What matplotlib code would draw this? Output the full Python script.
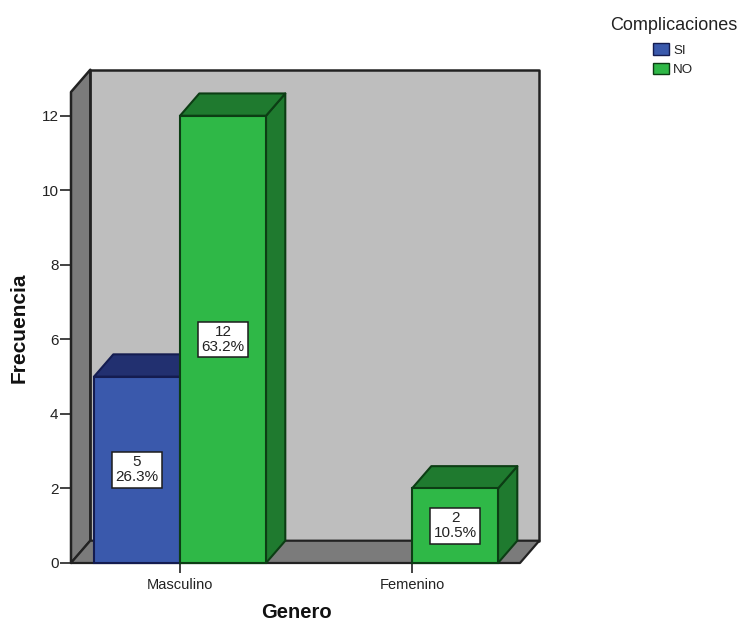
import matplotlib
matplotlib.use("Agg")
import matplotlib.pyplot as plt
from matplotlib.patches import Polygon, Patch

categories = ["Masculino", "Femenino"]
series_names = ["SI", "NO"]
si_counts = [5, 0]
no_counts = [12, 2]
si_pct = ["26.3%", ""]
no_pct = ["63.2%", "10.5%"]
y_ticks = [0, 2, 4, 6, 8, 10, 12]

W, H = 740, 622
plt.rcParams["font.family"] = ["Liberation Sans", "DejaVu Sans"]

fig = plt.figure(figsize=(W / 100, H / 100), dpi=100, facecolor="white")
# Front plane of the 3D box, in pixels
L, R, B, T = 71, 520, 563, 92
ax = fig.add_axes([L / W, 1 - B / H, (R - L) / W, (B - T) / H])
px_per_cat = 232.0
px_per_val = 37.27
ax.set_xlim((L - 180) / px_per_cat, (R - 180) / px_per_cat)
ax.set_ylim(0, (B - T) / px_per_val)
for s in ax.spines.values():
    s.set_visible(False)
ax.patch.set_visible(False)

# Depth of the box and of the bars, in data units
dx = 19.3 / px_per_cat
dy = 22.3 / px_per_val
x0, x1 = ax.get_xlim()
y1 = ax.get_ylim()[1]
edge = "#222222"


def poly(pts, face, ec=edge, lw=1.5, z=1):
    ax.add_patch(Polygon(pts, closed=True, facecolor=face, edgecolor=ec,
                         linewidth=lw, zorder=z, clip_on=False, joinstyle="round"))


# Back wall, side wall and floor
poly([(x0 + dx, dy), (x1 + dx, dy), (x1 + dx, y1 + dy), (x0 + dx, y1 + dy)], "#bebebe", lw=1.8)
poly([(x0, 0), (x0 + dx, dy), (x0 + dx, y1 + dy), (x0, y1)], "#7b7b7b", lw=1.8)
poly([(x0, 0), (x1, 0), (x1 + dx, dy), (x0 + dx, dy)], "#7b7b7b", lw=1.6)

bar_w = 86.0 / px_per_cat


def bar3d(xl, h, front, top, side, ec, z):
    xr = xl + bar_w
    poly([(xr, 0), (xr + dx, dy), (xr + dx, h + dy), (xr, h)], side, ec, z=z)
    poly([(xl, h), (xr, h), (xr + dx, h + dy), (xl + dx, h + dy)], top, ec, z=z)
    ax.bar(xl, h, width=bar_w, align="edge", facecolor=front, edgecolor=ec,
           linewidth=1.5, zorder=z + 0.1, clip_on=False)


def value_label(x, h, count, pct):
    ax.text(x, h / 2, f"{count}\n{pct}", ha="center", va="center", fontsize=11,
            color="#222222", linespacing=1.08, zorder=10,
            bbox=dict(boxstyle="square,pad=0.22", facecolor="white",
                      edgecolor="#1c1c1c", linewidth=1.1))


blue = ("#3a59ac", "#223070", "#223070", "#141c50")
green = ("#2fb847", "#1f7a2f", "#1f7a2f", "#0c3d14")

for i in range(len(categories)):
    if si_counts[i]:
        bar3d(i - bar_w, si_counts[i], *blue, z=3)
    if no_counts[i]:
        bar3d(i, no_counts[i], *green, z=4)

for i in range(len(categories)):
    if si_counts[i]:
        value_label(i - bar_w / 2, si_counts[i], si_counts[i], si_pct[i])
    if no_counts[i]:
        value_label(i + bar_w / 2, no_counts[i], no_counts[i], no_pct[i])

ax.set_xticks(range(len(categories)), categories)
ax.set_yticks(y_ticks)
ax.tick_params(axis="x", length=7, width=1.2, color="#222222", labelsize=10.5,
               labelcolor="#222222", pad=3.5)
ax.tick_params(axis="y", length=8, width=1.2, color="#222222", labelsize=11,
               labelcolor="#222222", pad=1)
ax.set_xlabel("Genero", fontsize=14.5, fontweight="bold", color="#111111")
ax.xaxis.set_label_coords((296 - L) / (R - L), -(612 - B) / (B - T), transform=ax.transAxes)
ax.xaxis.label.set_va("center")
ax.set_ylabel("Frecuencia", fontsize=15, fontweight="bold", color="#111111")
ax.yaxis.set_label_coords((19 - L) / (R - L), (B - 328) / (B - T), transform=ax.transAxes)
ax.yaxis.label.set_va("center")

# Legend entries, with the title set apart from them
handles = [Patch(facecolor="#3a59ac", edgecolor="#141c50", label=series_names[0]),
           Patch(facecolor="#2fb847", edgecolor="#0c3d14", label=series_names[1])]
fig.text(674 / W, 1 - 26 / H, "Complicaciones", ha="center", va="center",
         fontsize=13, color="#222222")
leg = fig.legend(handles=handles, frameon=False,
                 loc="upper center", bbox_to_anchor=(673 / W, 1 - 43 / H),
                 bbox_transform=fig.transFigure, fontsize=9.6,
                 handlelength=1.2, handleheight=1.0, handletextpad=0.3,
                 labelspacing=0.45, borderpad=0, borderaxespad=0)
for t in leg.get_texts():
    t.set_color("#222222")

fig.savefig("out.png", dpi=100, facecolor="white")
